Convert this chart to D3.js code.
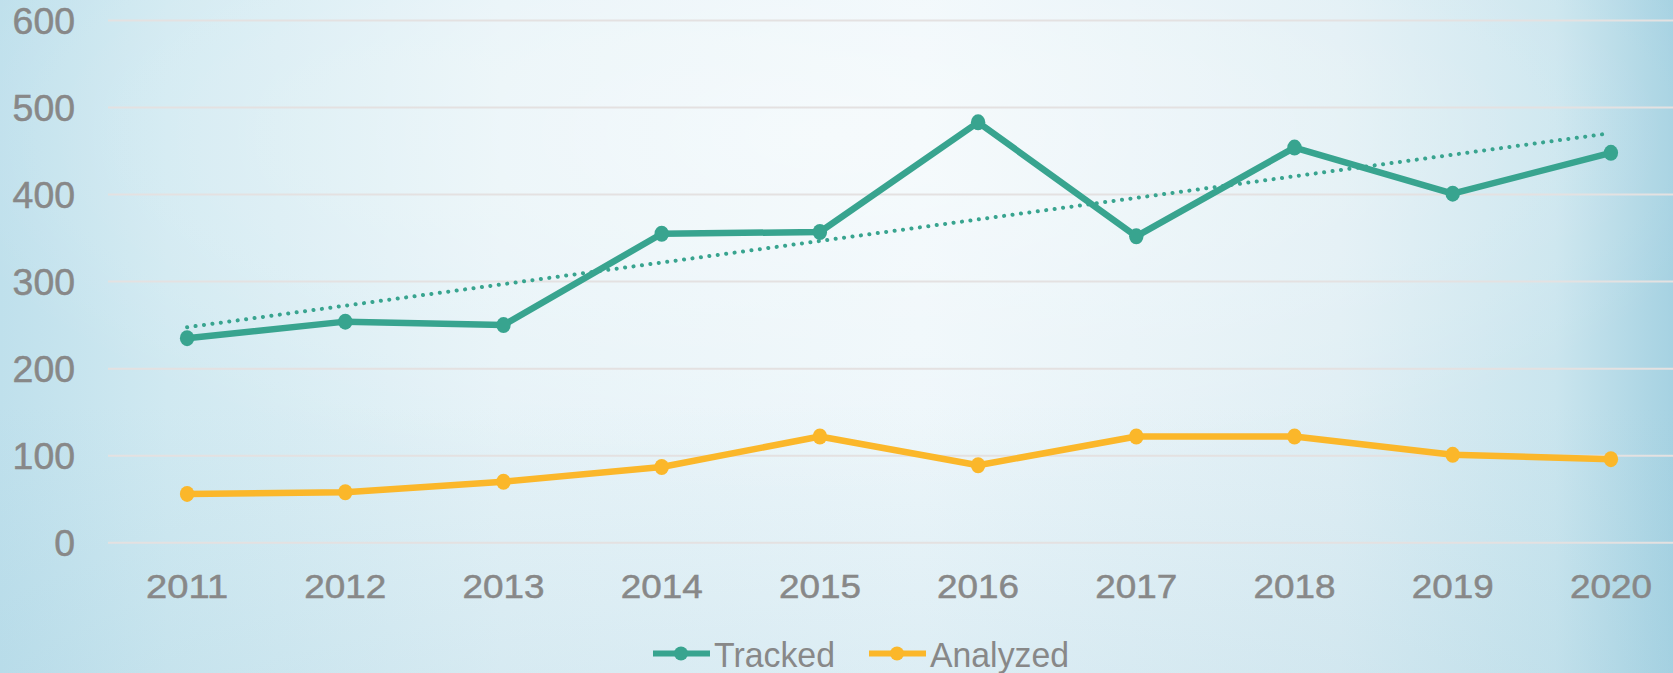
<!DOCTYPE html>
<html>
<head>
<meta charset="utf-8">
<script src="https://cdn.jsdelivr.net/npm/d3@7/dist/d3.min.js"></script>
<style>
html,body{margin:0;padding:0;overflow:hidden;}
svg{display:block;}
</style>
</head>
<body>
<svg id="chart" width="1673" height="673"></svg>
<script>
const years = ["2011","2012","2013","2014","2015","2016","2017","2018","2019","2020"];
const tracked = [235, 254, 250, 355, 357, 483, 352, 454, 401, 448];
const analyzed = [56, 58, 70, 87, 122, 89, 122, 122, 101, 96];
const yTicks = [0, 100, 200, 300, 400, 500, 600];
const seriesNames = ["Tracked", "Analyzed"];

const W = 1673, H = 673;
const teal = "#38a48f", gold = "#fbb72a", grey = "#888888";
const svg = d3.select("#chart");

// background
const defs = svg.append("defs");
const lgH = defs.append("linearGradient").attr("id","bgH").attr("x1","0").attr("x2","1").attr("y1","0").attr("y2","0");
[["0","#bfe0ec"],["0.1","#d0e9f1"],["0.3","#e5f2f7"],["0.55","#edf6fa"],["0.8","#dfeef4"],["0.93","#cae5ee"],["1","#a6d2e2"]]
  .forEach(s => lgH.append("stop").attr("offset", s[0]).attr("stop-color", s[1]));
const rg = defs.append("radialGradient").attr("id","bgR").attr("cx","0.5").attr("cy","0.2").attr("r","0.55");
rg.append("stop").attr("offset","0").attr("stop-color","#ffffff").attr("stop-opacity",0.5);
rg.append("stop").attr("offset","1").attr("stop-color","#ffffff").attr("stop-opacity",0);
const lgV = defs.append("linearGradient").attr("id","bgV").attr("x1","0").attr("x2","0").attr("y1","0").attr("y2","1");
lgV.append("stop").attr("offset","0.6").attr("stop-color","#9ccbdd").attr("stop-opacity",0);
lgV.append("stop").attr("offset","1").attr("stop-color","#9ccbdd").attr("stop-opacity",0.2);
svg.append("rect").attr("width",W).attr("height",H).attr("fill","url(#bgH)");
svg.append("rect").attr("width",W).attr("height",H).attr("fill","url(#bgR)");
svg.append("rect").attr("width",W).attr("height",H).attr("fill","url(#bgV)");

const x = d3.scaleBand().domain(years).range([108, 1690]).padding(0);
const cx = d => x(d) + x.bandwidth()/2;
const y = d3.scaleLinear().domain([0, 600]).range([542.7, 20.5]);

// gridlines
svg.append("g").selectAll("line").data(yTicks).join("line")
  .attr("x1", 108).attr("x2", W)
  .attr("y1", d => y(d)).attr("y2", d => y(d))
  .attr("stroke", "#e4e1e1").attr("stroke-width", 2);

const font = "'Liberation Sans', Arial, sans-serif";

// y axis labels
const yAxis = d3.axisLeft(y).tickValues(yTicks).tickSize(0).tickPadding(0);
const gy = svg.append("g").attr("transform","translate(75,0)").call(yAxis);
gy.select(".domain").remove();
gy.selectAll("text").attr("font-family", font)
  .attr("font-size", 36).attr("fill", grey).attr("dy", "0.355em")
  .attr("stroke", grey).attr("stroke-width", 0.5)
  .each(function(d){ const s = String(d); d3.select(this).attr("textLength", s.length * 20.8).attr("lengthAdjust","spacingAndGlyphs"); });

// x axis labels
const xAxis = d3.axisBottom(x).tickSize(0).tickPadding(0);
const gx = svg.append("g").attr("transform","translate(0,598.3)").call(xAxis);
gx.select(".domain").remove();
gx.selectAll("text").attr("font-family", font)
  .attr("font-size", 32.5).attr("fill", grey).attr("dy", 0).attr("y", 0)
  .attr("stroke", grey).attr("stroke-width", 0.5)
  .attr("textLength", 82).attr("lengthAdjust","spacingAndGlyphs");

// trendline (least squares fit of Tracked)
const n = tracked.length;
const xs = d3.range(n);
const mx = d3.mean(xs), my = d3.mean(tracked);
const slope = d3.sum(xs, i => (i - mx) * (tracked[i] - my)) / d3.sum(xs, i => (i - mx) ** 2);
const icpt = my - slope * mx;
svg.append("line")
  .attr("x1", cx(years[0])).attr("y1", y(icpt))
  .attr("x2", cx(years[n-1]) - 2).attr("y2", y(icpt + slope * (n-1)))
  .attr("stroke", teal).attr("stroke-width", 4)
  .attr("stroke-linecap","round").attr("stroke-dasharray","0.1 8.4");

const line = d3.line().x((d,i) => cx(years[i])).y(d => y(d));
function drawSeries(vals, color){
  svg.append("path").datum(vals).attr("d", line)
    .attr("fill","none").attr("stroke", color).attr("stroke-width", 6.5)
    .attr("stroke-linejoin","round");
  svg.append("g").selectAll("ellipse").data(vals).join("ellipse")
    .attr("cx", (d,i) => cx(years[i])).attr("cy", d => y(d))
    .attr("rx", 7.2).attr("ry", 8).attr("fill", color);
}
drawSeries(analyzed, gold);
drawSeries(tracked, teal);

// legend
const legend = [
  {name: seriesNames[0], color: teal, x0: 653, w: 121},
  {name: seriesNames[1], color: gold, x0: 869, w: 139}
];
const lg = svg.append("g");
legend.forEach(l => {
  lg.append("line").attr("x1", l.x0).attr("x2", l.x0 + 57).attr("y1", 653.5).attr("y2", 653.5)
    .attr("stroke", l.color).attr("stroke-width", 6);
  lg.append("circle").attr("cx", l.x0 + 28).attr("cy", 653.5).attr("r", 7).attr("fill", l.color);
  lg.append("text").attr("x", l.x0 + 61).attr("y", 666.7)
    .attr("font-family", font).attr("font-size", 35)
    .attr("textLength", l.w).attr("lengthAdjust","spacingAndGlyphs")
    .attr("fill", grey).text(l.name);
});
</script>
</body>
</html>
